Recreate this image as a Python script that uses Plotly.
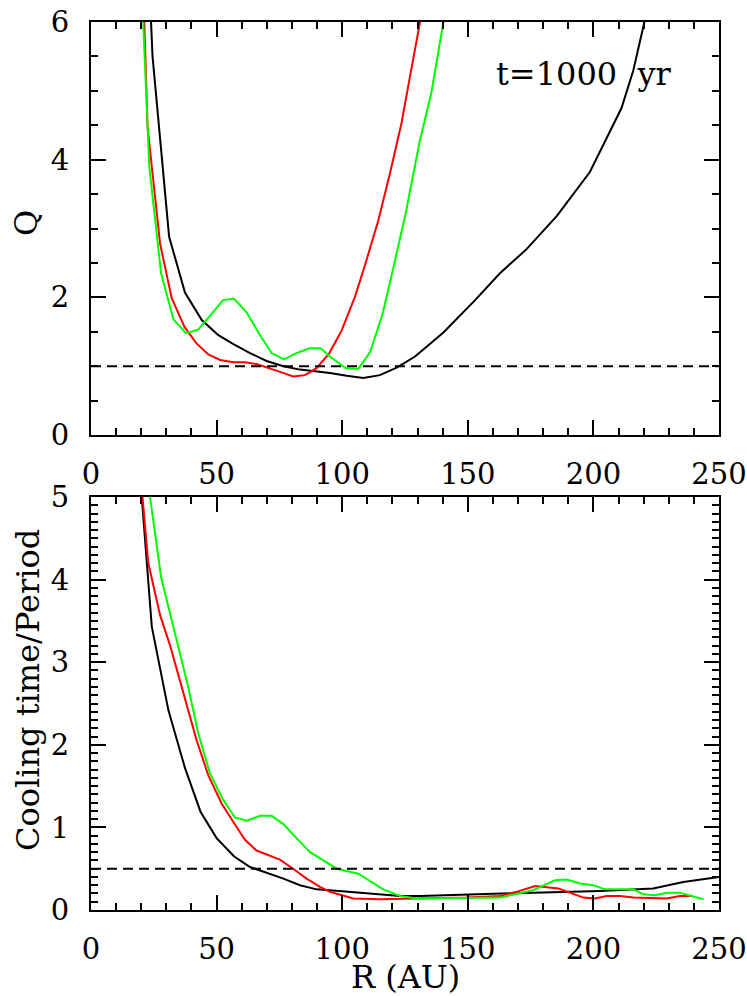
import plotly.graph_objects as go

# ---------------- data ----------------
# Top panel: Toomre Q vs R (AU)
q_black_r = [23.3, 24.5, 31.1, 37.4, 44.1, 50.7, 56.7, 63.3, 69.9, 76.6, 83.2, 88.5, 95.1, 101.8,
             108.4, 115.0, 121.7, 129.0, 140.3, 152.9, 162.8, 173.4, 185.4, 198.6, 211.2, 215.9,
             220.3, 223.0]
q_black = [6.5, 5.5, 2.88, 2.07, 1.67, 1.45, 1.32, 1.19, 1.075, 1.0, 0.95, 0.93, 0.90, 0.86,
           0.83, 0.87, 0.98, 1.14, 1.49, 1.96, 2.35, 2.70, 3.18, 3.82, 4.75, 5.30, 6.0, 6.6]

q_red_r = [20.8, 21.2, 22.5, 27.5, 32.1, 37.2, 42.0, 46.7, 51.4, 56.7, 61.3, 65.9, 71.3, 75.9,
           80.5, 85.2, 89.8, 94.9, 99.8, 105.1, 109.1, 114.4, 119.0, 123.6, 127.0, 131.2, 133.0]
q_red = [6.5, 6.0, 4.48, 2.78, 1.99, 1.57, 1.33, 1.17, 1.09, 1.056, 1.056, 1.03, 0.97, 0.91,
         0.85, 0.87, 0.97, 1.19, 1.52, 2.01, 2.47, 3.12, 3.80, 4.53, 5.21, 6.0, 6.4]

q_green_r = [20.2, 23.2, 27.9, 32.8, 37.8, 42.7, 52.6, 57.0, 62.0, 67.3, 71.9, 76.8, 81.8, 86.9,
             91.4, 95.1, 101.5, 106.4, 111.1, 116.1, 120.3, 125.4, 130.7, 135.6, 140.3, 141.5]
q_green = [6.5, 3.90, 2.35, 1.68, 1.48, 1.53, 1.96, 1.98, 1.78, 1.45, 1.19, 1.10, 1.19, 1.26,
           1.26, 1.14, 0.97, 0.96, 1.20, 1.76, 2.42, 3.24, 4.24, 4.99, 6.0, 6.3]

# Bottom panel: cooling time / period vs R (AU)
c_black_r = [19.5, 20.2, 24.2, 30.8, 37.4, 43.6, 50.0, 56.9, 63.3, 69.9, 76.6, 83.2, 89.8, 95.1,
             107.7, 123.0, 131.0, 149.6, 176.2, 202.6, 223.8, 235.8, 250.0]
c_black = [5.6, 5.0, 3.43, 2.42, 1.72, 1.19, 0.87, 0.65, 0.52, 0.45, 0.38, 0.30, 0.25, 0.24,
           0.21, 0.17, 0.17, 0.19, 0.21, 0.23, 0.26, 0.34, 0.40]

c_red_r = [19.8, 20.5, 22.8, 27.5, 31.4, 37.4, 42.0, 46.7, 52.0, 57.0, 61.3, 65.9, 75.2, 80.5,
           85.8, 91.2, 95.1, 104.4, 115.0, 149.6, 162.8, 169.4, 176.8, 186.1, 190.7, 196.0,
           200.6, 205.3, 210.6, 215.9, 229.2, 234.4, 239.1]
c_red = [5.5, 5.0, 4.20, 3.57, 3.21, 2.54, 2.06, 1.63, 1.29, 1.05, 0.85, 0.72, 0.61, 0.50,
         0.38, 0.28, 0.22, 0.14, 0.13, 0.15, 0.17, 0.22, 0.29, 0.26, 0.21, 0.15,
         0.14, 0.17, 0.17, 0.15, 0.14, 0.17, 0.17]

c_green_r = [22.9, 23.5, 27.9, 31.4, 35.4, 38.7, 42.7, 47.4, 52.7, 57.3, 62.0, 67.3, 71.9, 76.6,
             81.8, 87.2, 92.5, 97.8, 106.4, 116.3, 123.0, 129.7, 162.8, 176.0, 184.7, 189.4,
             194.7, 200.0, 204.6, 215.9, 219.9, 224.5, 229.2, 234.4, 239.1, 243.8]
c_green = [5.5, 5.0, 4.03, 3.59, 3.11, 2.70, 2.14, 1.65, 1.33, 1.12, 1.08, 1.14, 1.14, 1.04,
           0.87, 0.70, 0.60, 0.50, 0.44, 0.25, 0.17, 0.14, 0.15, 0.24, 0.36, 0.37,
           0.32, 0.30, 0.25, 0.25, 0.19, 0.18, 0.21, 0.21, 0.17, 0.13]

Q_CRIT = 1.0
CT_CRIT = 0.5
x_tickvals = [0, 50, 100, 150, 200, 250]
label_time = "t=1000  yr"

# ---------------- figure ----------------
FONT = "DejaVu Serif"
fig = go.Figure()

def add_line(x, y, color, xa, ya):
    fig.add_trace(go.Scatter(x=x, y=y, mode="lines", xaxis=xa, yaxis=ya,
                             line=dict(color=color, width=2), showlegend=False,
                             hoverinfo="skip"))

add_line(q_black_r, q_black, "black", "x", "y")
add_line(q_red_r, q_red, "#ff0000", "x", "y")
add_line(q_green_r, q_green, "#00ff00", "x", "y")
add_line(c_black_r, c_black, "black", "x2", "y2")
add_line(c_red_r, c_red, "#ff0000", "x2", "y2")
add_line(c_green_r, c_green, "#00ff00", "x2", "y2")

W, H = 747, 996
xdom = [91 / W, 719 / W]
ydom_top = [(H - 435) / H, (H - 22) / H]
ydom_bot = [(H - 910) / H, (H - 497) / H]

tickfont = dict(family=FONT, size=29, color="black")
titlefont = dict(family=FONT, size=32, color="black")

def axis(**kw):
    d = dict(showline=True, linecolor="black", linewidth=2, mirror="allticks",
             ticks="inside", ticklen=15, tickwidth=2, tickcolor="black",
             showgrid=False, zeroline=False, tickfont=tickfont, automargin=False,
             fixedrange=True)
    d.update(kw)
    return d

minor_x = dict(ticks="inside", ticklen=7, tickwidth=2, tickcolor="black", dtick=10, showgrid=False)

fig.update_layout(
    width=W, height=H, plot_bgcolor="white", paper_bgcolor="white",
    margin=dict(l=0, r=0, t=0, b=0),
    xaxis=axis(domain=xdom, anchor="y", range=[0, 250], tickvals=x_tickvals,
               minor=minor_x, ticklabelstandoff=12),
    yaxis=axis(domain=ydom_top, anchor="x", range=[0, 6], dtick=2, tick0=0,
               minor=dict(ticks="inside", ticklen=7, tickwidth=2, tickcolor="black",
                          dtick=0.5, showgrid=False), ticklabelstandoff=14),
    xaxis2=axis(domain=xdom, anchor="y2", range=[0, 250], tickvals=x_tickvals,
                minor=minor_x, ticklabelstandoff=12),
    yaxis2=axis(domain=ydom_bot, anchor="x2", range=[0, 5], dtick=1, tick0=0,
                minor=dict(ticks="inside", ticklen=7, tickwidth=2, tickcolor="black",
                           dtick=0.1, showgrid=False), ticklabelstandoff=14),
    shapes=[
        dict(type="line", xref="x domain", yref="y", x0=0, x1=1, y0=Q_CRIT, y1=Q_CRIT,
             line=dict(color="black", width=2, dash="10px,6px")),
        dict(type="line", xref="x2 domain", yref="y2", x0=0, x1=1, y0=CT_CRIT, y1=CT_CRIT,
             line=dict(color="black", width=2, dash="10px,6px")),
    ],
    annotations=[
        dict(text=label_time, xref="x", yref="y", x=160.4, y=5.245, xanchor="left",
             yanchor="middle", showarrow=False, font=titlefont),
        dict(text="Q", xref="paper", yref="paper", x=26 / W, y=(H - 223) / H, textangle=-90,
             xanchor="center", yanchor="middle", showarrow=False, font=titlefont),
        dict(text="Cooling time/Period", xref="paper", yref="paper", x=28 / W, y=(H - 690) / H,
             textangle=-90, xanchor="center", yanchor="middle", showarrow=False,
             font=titlefont),
        dict(text="R (AU)", xref="paper", yref="paper", x=405 / W, y=(H - 977) / H,
             xanchor="center", yanchor="middle", showarrow=False, font=titlefont),
    ],
)

fig.write_html("out.html", config={"displayModeBar": False},
               post_script="document.body.style.margin='0';document.body.style.overflow='hidden';")
